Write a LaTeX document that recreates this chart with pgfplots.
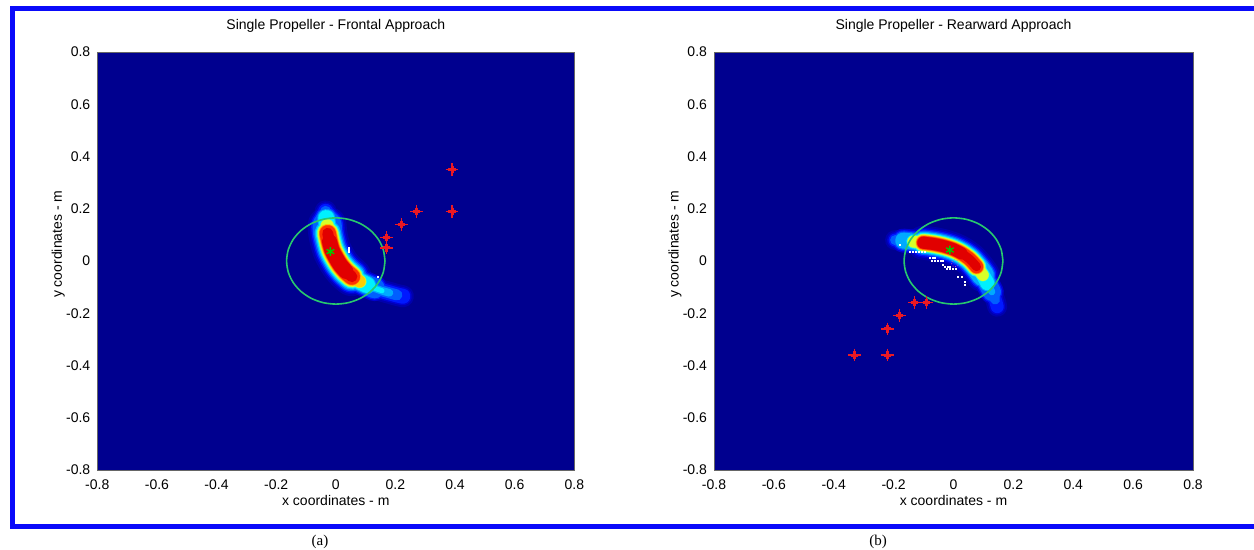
\documentclass[border=0pt]{standalone}
\usepackage{pgfplots}
\pgfplotsset{compat=1.18}
\usepackage{pgfplotstable}
\usepackage{fontspec}
\setmainfont{Liberation Sans}
\newfontfamily\serifA{Liberation Serif}

\definecolor{bgblue}{RGB}{0,0,143}
\definecolor{k0}{RGB}{0,0,172}
\definecolor{k1}{RGB}{0,0,210}
\definecolor{k2}{RGB}{0,25,255}
\definecolor{k3}{RGB}{0,95,255}
\definecolor{k4}{RGB}{0,170,255}
\definecolor{k5}{RGB}{0,240,255}
\definecolor{k6}{RGB}{110,255,145}
\definecolor{k7}{RGB}{215,255,40}
\definecolor{k8}{RGB}{255,205,0}
\definecolor{k9}{RGB}{255,130,0}
\definecolor{k10}{RGB}{255,50,0}
\definecolor{k11}{RGB}{225,0,0}
\definecolor{circgreen}{RGB}{40,200,110}
\definecolor{starred}{RGB}{235,25,35}
\definecolor{frameblue}{RGB}{10,10,250}

% crescent centre lines
\pgfplotstableread{
x y
-0.034 0.190
-0.032 0.164
-0.029 0.135
-0.027 0.106
-0.021 0.074
-0.013 0.042
0.000 0.013
0.015 -0.015
0.034 -0.040
0.054 -0.060
0.080 -0.078
0.105 -0.092
0.130 -0.104
0.155 -0.114
0.180 -0.122
0.205 -0.130
0.225 -0.135
}\crescA

\pgfplotstableread{
x y
-0.195 0.080
-0.168 0.078
-0.134 0.074
-0.101 0.070
-0.067 0.065
-0.034 0.057
-0.001 0.045
0.027 0.029
0.055 0.006
0.077 -0.022
0.098 -0.054
0.113 -0.085
0.128 -0.118
0.139 -0.147
0.146 -0.175
}\crescB

\pgfplotstableread{
x y
0.165 0
0.1594 0.0427
0.1429 0.0825
0.1167 0.1167
0.0825 0.1429
0.0427 0.1594
0 0.165
-0.0427 0.1594
-0.0825 0.1429
-0.1167 0.1167
-0.1429 0.0825
-0.1594 0.0427
-0.165 0
-0.1594 -0.0427
-0.1429 -0.0825
-0.1167 -0.1167
-0.0825 -0.1429
-0.0427 -0.1594
0 -0.165
0.0427 -0.1594
0.0825 -0.1429
0.1167 -0.1167
0.1429 -0.0825
0.1594 -0.0427
0.165 0
}\circ

\pgfplotstableread{
x y
0.39 0.35
0.39 0.19
0.27 0.19
0.22 0.14
0.17 0.09
0.17 0.05
}\starsA

\pgfplotstableread{
x y
-0.13 -0.16
-0.09 -0.16
-0.18 -0.21
-0.22 -0.26
-0.33 -0.36
-0.22 -0.36
}\starsB

\pgfplotstableread{
x y
0.043 0.049
0.043 0.041
0.043 0.033
0.140 -0.062
}\whiteA

\pgfplotstableread{
x y
-0.179 0.061
-0.145 0.033
-0.135 0.033
-0.125 0.033
-0.115 0.033
-0.105 0.033
-0.095 0.033
-0.078 0.010
-0.070 0.010
-0.062 0.010
-0.073 0.001
-0.063 0.001
-0.053 0.001
-0.043 0.001
-0.034 0.001
-0.034 -0.015
-0.028 -0.022
-0.020 -0.022
-0.012 -0.022
-0.023 -0.032
-0.013 -0.032
-0.003 -0.032
0.007 -0.032
0.016 -0.060
0.027 -0.060
0.038 -0.079
0.038 -0.092
}\whiteB

\newcommand\sz{\fontsize{7}{8.4}\selectfont}

\pgfplotsset{
  cr/.style n args={3}{no markers, smooth, line cap=round, line join=round,
     line width=#1, draw=#2, restrict expr to domain={\coordindex}{#3}, forget plot},
  myax/.style={
    scale only axis, width=238.5pt, height=209pt,
    xmin=-0.8, xmax=0.8, ymin=-0.8, ymax=0.8,
    xtick={-0.8,-0.6,-0.4,-0.2,0,0.2,0.4,0.6,0.8},
    xticklabels={-0.8,-0.6,-0.4,-0.2,0,0.2,0.4,0.6,0.8},
    ytick={-0.8,-0.6,-0.4,-0.2,0,0.2,0.4,0.6,0.8},
    yticklabels={-0.8,-0.6,-0.4,-0.2,0,0.2,0.4,0.6,0.8},
    tick style={draw=none},
    axis background/.style={fill=bgblue},
    axis line style={black!60, line width=0.4pt},
    xticklabel style={font=\sz, yshift=-1.2pt},
    yticklabel style={font=\sz},
    xlabel={x coordinates - m}, ylabel={y coordinates - m},
    every axis x label/.style={at={(axis description cs:0.5,-0.0861)}, anchor=base, font=\sz},
    every axis y label/.style={at={(axis description cs:-0.074,0.54)}, anchor=base, rotate=90, font=\sz},
    title style={at={(axis description cs:0.5,1.0246)}, anchor=base, font=\sz},
    clip=true,
  },
}

\begin{document}
\begin{tikzpicture}[x=1pt,y=1pt]

% ---------------- (a) ----------------
\begin{axis}[myax, at={(48.65pt,40pt)}, anchor=south west,
  title={Single Propeller - Frontal Approach}]
\addplot[cr={11pt}{k0}{0:16}] table{\crescA};
\addplot[cr={19.5pt}{k0}{2:9}] table{\crescA};
\addplot[cr={9pt}{k1}{0:16}] table{\crescA};
\addplot[cr={13pt}{k1}{1:12}] table{\crescA};
\addplot[cr={17.5pt}{k1}{2:9}] table{\crescA};
\addplot[cr={7.5pt}{k2}{0:16}] table{\crescA};
\addplot[cr={11.5pt}{k2}{1:12}] table{\crescA};
\addplot[cr={16pt}{k2}{2:9}] table{\crescA};
\addplot[cr={5.5pt}{k3}{0:15}] table{\crescA};
\addplot[cr={10.2pt}{k3}{1:12}] table{\crescA};
\addplot[cr={14.6pt}{k3}{2:9}] table{\crescA};
\addplot[cr={3.8pt}{k4}{1:14}] table{\crescA};
\addplot[cr={9pt}{k4}{1:11}] table{\crescA};
\addplot[cr={13.2pt}{k4}{3:9}] table{\crescA};
\addplot[cr={2.5pt}{k5}{1:13}] table{\crescA};
\addplot[cr={8pt}{k5}{1:11}] table{\crescA};
\addplot[cr={12pt}{k5}{3:9}] table{\crescA};
\addplot[cr={7pt}{k6}{2:10}] table{\crescA};
\addplot[cr={11pt}{k6}{3:9}] table{\crescA};
\addplot[cr={6.4pt}{k7}{2:10}] table{\crescA};
\addplot[cr={10.2pt}{k7}{3:9}] table{\crescA};
\addplot[cr={6pt}{k8}{3:10}] table{\crescA};
\addplot[cr={9.4pt}{k8}{3:9}] table{\crescA};
\addplot[cr={8.7pt}{k9}{3:9}] table{\crescA};
\addplot[cr={8.1pt}{k10}{3:9}] table{\crescA};
\addplot[cr={5.5pt}{k11}{3:9}] table{\crescA};
\addplot[cr={7.5pt}{k11}{4:8}] table{\crescA};
% circle
\addplot[smooth, no markers, draw=circgreen, line width=0.8pt] table{\circ};
% white samples
\addplot[only marks, mark=square*, mark size=0.25pt, white] table{\whiteA};
% red stars
\addplot[only marks, mark=+, mark size=3.2pt, mark options={draw=starred, line width=0.6pt}] table{\starsA};
\addplot[only marks, mark=+, mark size=1.8pt, mark options={draw=starred, line width=1.5pt}] table{\starsA};
% green star
\addplot[only marks, mark=asterisk, mark size=2.2pt, mark options={draw=green!80!black, line width=0.7pt}] coordinates {(-0.018,0.036)};
\end{axis}

% ---------------- (b) ----------------
\begin{axis}[myax, at={(357pt,40pt)}, anchor=south west, width=239.5pt,
  title={Single Propeller - Rearward Approach}]
\addplot[cr={10pt}{k0}{0:14}] table{\crescB};
\addplot[cr={17pt}{k0}{3:10}] table{\crescB};
\addplot[cr={8pt}{k1}{0:14}] table{\crescB};
\addplot[cr={12pt}{k1}{1:12}] table{\crescB};
\addplot[cr={15pt}{k1}{3:10}] table{\crescB};
\addplot[cr={6.5pt}{k2}{0:14}] table{\crescB};
\addplot[cr={10.5pt}{k2}{1:12}] table{\crescB};
\addplot[cr={13.5pt}{k2}{3:10}] table{\crescB};
\addplot[cr={5pt}{k3}{0:13}] table{\crescB};
\addplot[cr={9.2pt}{k3}{1:12}] table{\crescB};
\addplot[cr={12.2pt}{k3}{3:10}] table{\crescB};
\addplot[cr={3.5pt}{k4}{1:12}] table{\crescB};
\addplot[cr={8pt}{k4}{1:11}] table{\crescB};
\addplot[cr={11pt}{k4}{3:10}] table{\crescB};
\addplot[cr={7pt}{k5}{2:11}] table{\crescB};
\addplot[cr={10pt}{k5}{3:9}] table{\crescB};
\addplot[cr={6.3pt}{k6}{2:10}] table{\crescB};
\addplot[cr={9.2pt}{k6}{3:9}] table{\crescB};
\addplot[cr={5.8pt}{k7}{2:10}] table{\crescB};
\addplot[cr={8.5pt}{k7}{3:9}] table{\crescB};
\addplot[cr={7.8pt}{k8}{3:9}] table{\crescB};
\addplot[cr={7.2pt}{k9}{3:9}] table{\crescB};
\addplot[cr={6.6pt}{k10}{3:9}] table{\crescB};
\addplot[cr={4.5pt}{k11}{3:9}] table{\crescB};
\addplot[cr={6pt}{k11}{3:7}] table{\crescB};
% circle
\addplot[smooth, no markers, draw=circgreen, line width=0.8pt] table{\circ};
% white samples
\addplot[only marks, mark=square*, mark size=0.25pt, white] table{\whiteB};
% magenta ring
\addplot[only marks, mark=o, mark size=1.8pt, mark options={draw=magenta!70!white, line width=0.4pt, densely dotted}] coordinates {(0.005,-0.009)};
% red stars
\addplot[only marks, mark=+, mark size=3.2pt, mark options={draw=starred, line width=0.6pt}] table{\starsB};
\addplot[only marks, mark=+, mark size=1.8pt, mark options={draw=starred, line width=1.5pt}] table{\starsB};
% green star
\addplot[only marks, mark=asterisk, mark size=2.2pt, mark options={draw=green!80!black, line width=0.7pt}] coordinates {(-0.012,0.042)};
\end{axis}

% frame and sub-captions
\draw[frameblue, line width=2.5pt] (660,270.75) -- (6.25,270.75) -- (6.25,11.5) -- (660,11.5);
\node[font=\serifA\fontsize{7.5}{9}\selectfont, anchor=center] at (160,4.2) {(a)};
\node[font=\serifA\fontsize{7.5}{9}\selectfont, anchor=center] at (439,4.2) {(b)};

\pgfresetboundingbox
\path[use as bounding box] (0,0) rectangle (627,275);
\end{tikzpicture}
\end{document}
